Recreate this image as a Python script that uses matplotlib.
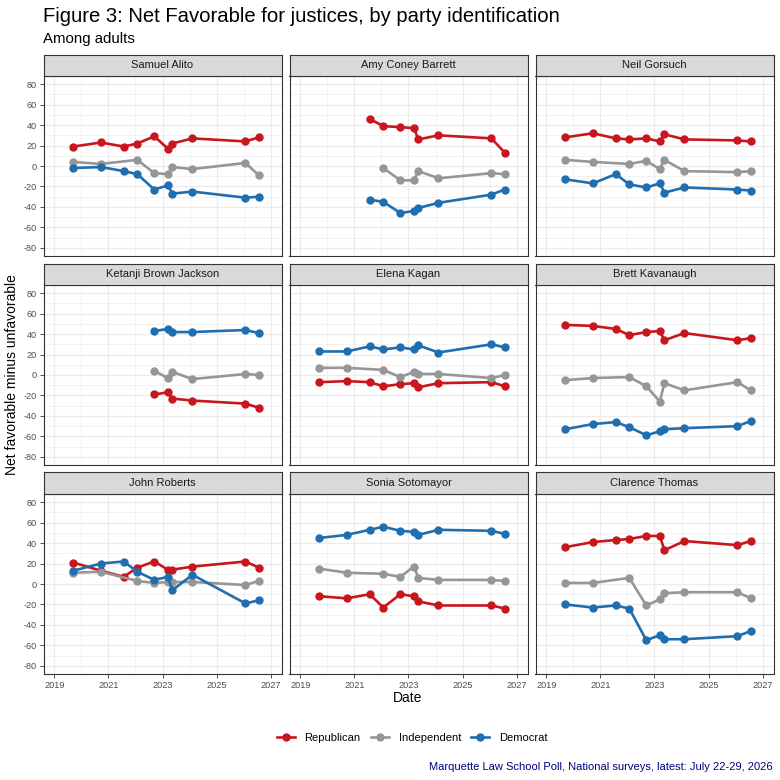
import matplotlib
matplotlib.use("Agg")
import matplotlib.pyplot as plt
from matplotlib.lines import Line2D
import numpy as np
import pandas as pd

plt.rcParams['font.family'] = ['Liberation Sans', 'DejaVu Sans']

# ---------------- data ----------------
survey_dates = ["2019-09-13", "2020-09-20", "2021-07-27", "2022-01-26", "2022-09-13",
                "2023-03-14", "2023-05-15", "2024-02-09", "2026-01-26", "2026-07-24"]

parties = ["Republican", "Independent", "Democrat"]
party_colors = ["#C8161D", "#969696", "#1F6EB0"]

justices = ["Samuel Alito", "Amy Coney Barrett", "Neil Gorsuch",
            "Ketanji Brown Jackson", "Elena Kagan", "Brett Kavanaugh",
            "John Roberts", "Sonia Sotomayor", "Clarence Thomas"]

N = None
alito_rep = [19, 23, 19, 22, 29, 17, 22, 27, 24, 28]
alito_ind = [4, 2, N, 6, -7, -8, -1, -3, 3, -9]
alito_dem = [-2, -1, -5, -8, -23, -19, -27, -25, -31, -30]

barrett_rep = [N, N, 46, 39, 38, 37, 26, 30, 27, 13]
barrett_ind = [N, N, N, -2, -14, -14, -5, -12, -7, -8]
barrett_dem = [N, N, -33, -35, -46, -44, -41, -36, -28, -23]

gorsuch_rep = [28, 32, 27, 26, 27, 24, 31, 26, 25, 24]
gorsuch_ind = [6, 4, N, 2, 5, -3, 6, -5, -6, -5]
gorsuch_dem = [-13, -17, -8, -18, -21, -17, -26, -21, -23, -24]

jackson_rep = [N, N, N, N, -19, -17, -23, -25, -28, -32]
jackson_ind = [N, N, N, N, 4, -3, 3, -4, 1, 0]
jackson_dem = [N, N, N, N, 43, 45, 42, 42, 44, 41]

kagan_rep = [-7, -6, -7, -11, -9, -8, -12, -8, -7, -11]
kagan_ind = [7, 7, N, 5, -2, 3, 1, 1, -3, 0]
kagan_dem = [23, 23, 28, 25, 27, 25, 29, 22, 30, 27]

kavanaugh_rep = [49, 48, 45, 39, 42, 43, 34, 41, 34, 36]
kavanaugh_ind = [-5, -3, N, -2, -11, -26, -8, -15, -7, -15]
kavanaugh_dem = [-53, -48, -46, -51, -59, -55, -53, -52, -50, -45]

roberts_rep = [21, 13, 7, 16, 22, 14, 14, 17, 22, 16]
roberts_ind = [11, 12, N, 3, 1, 2, 2, 2, -1, 3]
roberts_dem = [13, 20, 22, 12, 4, 7, -6, 9, -19, -16]

sotomayor_rep = [-12, -14, -10, -23, -10, -12, -17, -21, -21, -24]
sotomayor_ind = [15, 11, N, 10, 7, 17, 6, 4, 4, 3]
sotomayor_dem = [45, 48, 53, 56, 52, 51, 48, 53, 52, 49]

thomas_rep = [36, 41, 43, 44, 47, 47, 33, 42, 38, 42]
thomas_ind = [1, 1, N, 6, -21, -15, -9, -8, -8, -14]
thomas_dem = [-20, -23, -21, -24, -55, -50, -54, -54, -51, -46]

series = [
    (alito_rep, alito_ind, alito_dem),
    (barrett_rep, barrett_ind, barrett_dem),
    (gorsuch_rep, gorsuch_ind, gorsuch_dem),
    (jackson_rep, jackson_ind, jackson_dem),
    (kagan_rep, kagan_ind, kagan_dem),
    (kavanaugh_rep, kavanaugh_ind, kavanaugh_dem),
    (roberts_rep, roberts_ind, roberts_dem),
    (sotomayor_rep, sotomayor_ind, sotomayor_dem),
    (thomas_rep, thomas_ind, thomas_dem),
]

x_ticks = [2019, 2021, 2023, 2025, 2027]
y_ticks = [-80, -60, -40, -20, 0, 20, 40, 60, 80]

title = "Figure 3: Net Favorable for justices, by party identification"
subtitle = "Among adults"
caption = "Marquette Law School Poll, National surveys, latest: July 22-29, 2026"

# ---------------- helpers ----------------
d = pd.to_datetime(pd.Series(survey_dates))
year_start = pd.to_datetime(d.dt.year.astype(str) + "-01-01")
dec_year = (d.dt.year + (d - year_start).dt.days / 365.25).to_numpy()

W = H = 780
fig = plt.figure(figsize=(7.8, 7.8), dpi=100)
fig.patch.set_facecolor("white")

def fx(px):
    return px / W

def fy(py):
    return 1 - py / H

col_left = [43.5, 289.5, 535.5]
panel_w = 238
row_top = [76, 285, 494]
panel_h = 180
strip_h = 21.5

border_col = "#333333"
grid_col = "#EBEBEB"

for k, name in enumerate(justices):
    r, c = divmod(k, 3)
    left = col_left[c]
    top = row_top[r]
    ax = fig.add_axes([fx(left), fy(top + panel_h), fx(panel_w), panel_h / H])
    ax.set_xlim(2018.6, 2027.4)
    ax.set_ylim(-88, 88)
    ax.set_xticks(x_ticks)
    ax.set_xticks([2020, 2022, 2024, 2026], minor=True)
    ax.set_yticks(y_ticks)
    ax.set_yticks([-70, -50, -30, -10, 10, 30, 50, 70], minor=True)
    ax.grid(which="major", color=grid_col, lw=0.9, zorder=0)
    ax.grid(which="minor", color=grid_col, lw=0.45, zorder=0)
    ax.set_axisbelow(True)
    for s in ax.spines.values():
        s.set_color(border_col)
        s.set_linewidth(0.8)
    ax.tick_params(which="minor", length=0)
    ax.tick_params(which="major", length=2.8, width=0.6, color=border_col,
                   labelsize=6.6, labelcolor="#4D4D4D", pad=2)
    if c != 0:
        ax.tick_params(axis="y", which="major", length=0, labelleft=False)
    if r != 2:
        ax.tick_params(axis="x", which="major", length=0, labelbottom=False)
    ax.set_yticklabels([str(v) for v in y_ticks])

    for vals, col in zip(series[k], party_colors):
        xs = [x for x, v in zip(dec_year, vals) if v is not None]
        ys = [v for v in vals if v is not None]
        ax.plot(xs, ys, color=col, lw=1.9, marker="o", ms=5.0, zorder=3,
                solid_joinstyle="round")

    sax = fig.add_axes([fx(left), fy(top), fx(panel_w), strip_h / H])
    sax.set_facecolor("#D9D9D9")
    sax.set_xticks([])
    sax.set_yticks([])
    for s in sax.spines.values():
        s.set_color(border_col)
        s.set_linewidth(0.8)
    sax.text(0.5, 0.5, name, ha="center", va="center", fontsize=8,
             color="#1A1A1A", transform=sax.transAxes)

fig.text(fx(43), fy(16), title, fontsize=14.6, ha="left", va="center", color="black")
fig.text(fx(43), fy(39), subtitle, fontsize=10.8, ha="left", va="center", color="black")
fig.text(fx(12), fy(375), "Net favorable minus unfavorable", rotation=90,
         fontsize=10, ha="center", va="center")
fig.text(fx(408), fy(698), "Date", fontsize=10, ha="center", va="center")

handles = [Line2D([0], [0], color=col, lw=1.9, marker="o", ms=5.0) for col in party_colors]
fig.legend(handles, parties, loc="center", bbox_to_anchor=(fx(412), fy(738)),
           ncol=3, frameon=False, fontsize=8, handlelength=1.6,
           handletextpad=0.9, columnspacing=0.9)

fig.text(fx(773), fy(767), caption, fontsize=8.05, ha="right", va="center", color="#000080")

fig.savefig("out.png", dpi=100, facecolor="white")
